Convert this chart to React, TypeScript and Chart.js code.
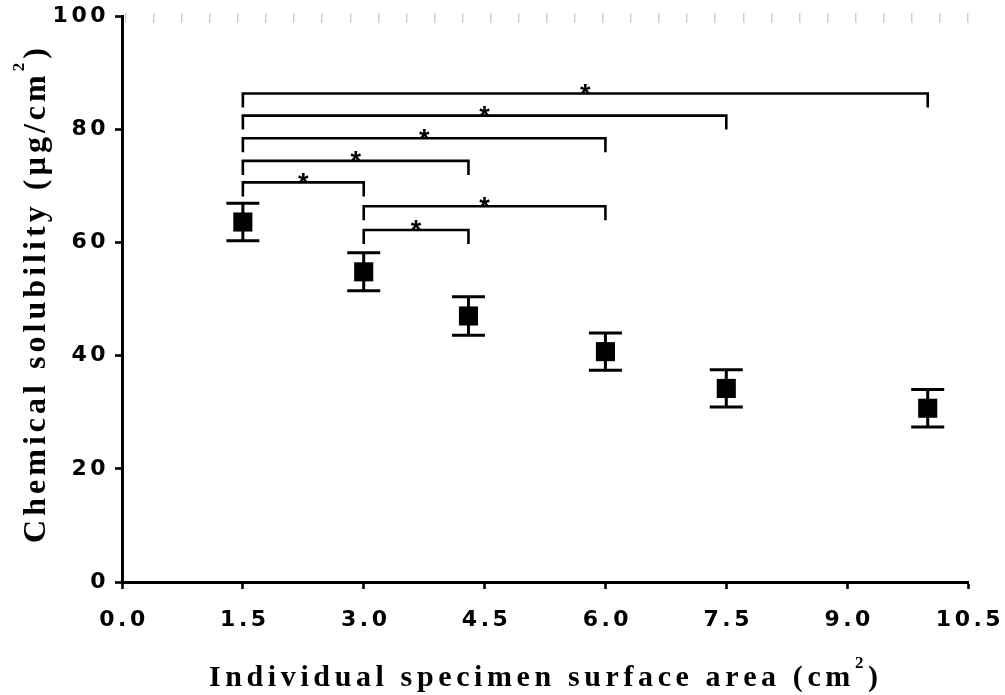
import React, { useEffect, useRef } from 'react';
import { Chart, registerables } from 'chart.js';

Chart.register(...registerables);

// Specimen surface area (cm²) and chemical solubility (mean ± SD, µg/cm²)
const surfaceArea = [1.5, 3.0, 4.3, 6.0, 7.5, 10.0];
const solubilityMean = [63.6, 54.8, 47.0, 40.7, 34.2, 30.7];
const solubilitySD = [3.3, 3.35, 3.4, 3.3, 3.3, 3.3];

// Significant pairwise comparisons (bracket from / to, drawn at a given level)
const comparisonFrom = [1.5, 1.5, 1.5, 1.5, 1.5, 3.0, 3.0];
const comparisonTo = [10.0, 7.5, 6.0, 4.3, 3.0, 6.0, 4.3];
const comparisonLevel = [86.3, 82.4, 78.4, 74.4, 70.6, 66.4, 62.2];
const comparisonMark = ['*', '*', '*', '*', '*', '*', '*'];

// Axis ticks
const xTicks = [0, 1.5, 3.0, 4.5, 6.0, 7.5, 9.0, 10.5];
const yTicks = [0, 20, 40, 60, 80, 100];

// Axis titles (main text, superscript, closing)
const xTitleParts = ['Individual specimen surface area (cm', '2', ')'];
const yTitleParts = ['Chemical solubility (µg/cm', '2', ')'];

const TICK_FONT = { family: "'DejaVu Sans', Arial, sans-serif", size: 22, weight: 'bold' as const };
const TICK_SPACING = '3.5px';
const TITLE_FAMILY = "'Liberation Serif', 'Times New Roman', serif";
const STAR_FAMILY = "'Liberation Sans', Arial, sans-serif";

type Part = { text: string; size: number; rise: number };

function drawSpacedTitle(
  ctx: CanvasRenderingContext2D,
  parts: Part[],
  targetWidth: number,
) {
  // measure natural width, then spread characters evenly across the target width
  let natural = 0;
  let count = 0;
  for (const p of parts) {
    ctx.font = `bold ${p.size}px ${TITLE_FAMILY}`;
    for (const ch of p.text) {
      natural += ctx.measureText(ch).width;
      count += 1;
    }
  }
  const gap = count > 1 ? (targetWidth - natural) / (count - 1) : 0;
  let x = -targetWidth / 2;
  ctx.textAlign = 'left';
  ctx.textBaseline = 'alphabetic';
  for (const p of parts) {
    ctx.font = `bold ${p.size}px ${TITLE_FAMILY}`;
    for (const ch of p.text) {
      ctx.fillText(ch, x, -p.rise);
      x += ctx.measureText(ch).width + gap;
    }
  }
}

const decorPlugin = {
  id: 'solubilityDecor',
  beforeLayout(chart: any) {
    (chart.ctx as any).letterSpacing = TICK_SPACING;
  },
  beforeDraw(chart: any) {
    (chart.ctx as any).letterSpacing = TICK_SPACING;
  },
  beforeDatasetsDraw(chart: any) {
    const ctx: CanvasRenderingContext2D = chart.ctx;
    const xs = chart.scales.x;
    const ys = chart.scales.y;
    const area = chart.chartArea;
    ctx.save();
    (ctx as any).letterSpacing = '0px';

    // light dashed frame along the top edge
    ctx.fillStyle = '#cccccc';
    for (let px = area.left + 3; px <= area.right + 1; px += 28.07) {
      ctx.fillRect(Math.round(px), area.top - 3, 1.4, 10);
    }

    // error bars
    ctx.strokeStyle = '#000';
    ctx.lineWidth = 3;
    ctx.lineCap = 'butt';
    for (let i = 0; i < surfaceArea.length; i++) {
      const px = xs.getPixelForValue(surfaceArea[i]);
      const top = ys.getPixelForValue(solubilityMean[i] + solubilitySD[i]);
      const bot = ys.getPixelForValue(solubilityMean[i] - solubilitySD[i]);
      ctx.beginPath();
      ctx.moveTo(px, top);
      ctx.lineTo(px, bot);
      ctx.moveTo(px - 16.5, top);
      ctx.lineTo(px + 16.5, top);
      ctx.moveTo(px - 16.5, bot);
      ctx.lineTo(px + 16.5, bot);
      ctx.stroke();
    }
    ctx.restore();
  },
  afterDatasetsDraw(chart: any) {
    const ctx: CanvasRenderingContext2D = chart.ctx;
    const xs = chart.scales.x;
    const ys = chart.scales.y;
    ctx.save();
    (ctx as any).letterSpacing = '0px';
    ctx.strokeStyle = '#000';
    ctx.fillStyle = '#000';
    ctx.lineWidth = 2.6;
    ctx.lineJoin = 'miter';
    ctx.font = `bold 27px ${STAR_FAMILY}`;
    ctx.textAlign = 'center';
    ctx.textBaseline = 'alphabetic';
    const drop = 14;
    for (let i = 0; i < comparisonFrom.length; i++) {
      const x1 = xs.getPixelForValue(comparisonFrom[i]);
      const x2 = xs.getPixelForValue(comparisonTo[i]);
      const yl = ys.getPixelForValue(comparisonLevel[i]);
      ctx.beginPath();
      ctx.moveTo(x1, yl + drop);
      ctx.lineTo(x1, yl);
      ctx.lineTo(x2, yl);
      ctx.lineTo(x2, yl + drop);
      ctx.stroke();
      const m = ctx.measureText(comparisonMark[i]);
      const centerY = yl - 4;
      const base = centerY - (m.actualBoundingBoxDescent - m.actualBoundingBoxAscent) / 2;
      ctx.fillText(comparisonMark[i], (x1 + x2) / 2, base);
    }
    ctx.restore();
  },
  afterDraw(chart: any) {
    const ctx: CanvasRenderingContext2D = chart.ctx;
    ctx.save();
    (ctx as any).letterSpacing = '0px';
    ctx.fillStyle = '#000';

    // x-axis title
    ctx.save();
    ctx.translate(543.5, 686);
    drawSpacedTitle(
      ctx,
      [
        { text: xTitleParts[0], size: 30, rise: 0 },
        { text: xTitleParts[1], size: 17, rise: 18 },
        { text: xTitleParts[2], size: 30, rise: 0 },
      ],
      669,
    );
    ctx.restore();

    // y-axis title (rotated)
    ctx.save();
    ctx.translate(45, 295.5);
    ctx.rotate(-Math.PI / 2);
    drawSpacedTitle(
      ctx,
      [
        { text: yTitleParts[0], size: 32, rise: 0 },
        { text: yTitleParts[1], size: 17, rise: 21 },
        { text: yTitleParts[2], size: 32, rise: 0 },
      ],
      495,
    );
    ctx.restore();

    ctx.restore();
  },
};

export default function App() {
  const canvasRef = useRef<HTMLCanvasElement | null>(null);

  useEffect(() => {
    const canvas = canvasRef.current;
    if (!canvas) return;

    const chart = new Chart(canvas, {
      type: 'scatter',
      data: {
        datasets: [
          {
            label: 'Chemical solubility',
            data: surfaceArea.map((x, i) => ({ x, y: solubilityMean[i] })),
            pointStyle: 'rect',
            pointRadius: 13.5,
            pointHoverRadius: 13.5,
            backgroundColor: '#000',
            borderColor: '#000',
            borderWidth: 0,
            showLine: false,
          },
        ],
      },
      options: {
        animation: false,
        responsive: true,
        maintainAspectRatio: false,
        events: [],
        layout: { padding: { top: 16, right: 37, bottom: 0, left: 0 } },
        plugins: {
          legend: { display: false },
          tooltip: { enabled: false },
        },
        scales: {
          x: {
            type: 'linear',
            min: 0,
            max: 10.5,
            afterBuildTicks: (s: any) => {
              s.ticks = xTicks.map((v) => ({ value: v }));
            },
            afterFit: (s: any) => {
              s.height = 113;
              s.paddingLeft = 0;
              s.paddingRight = 0;
            },
            ticks: {
              callback: (v: any) => Number(v).toFixed(1),
              font: TICK_FONT,
              color: '#000',
              padding: 18,
              labelOffset: 2,
              maxRotation: 0,
              autoSkip: false,
            },
            grid: {
              display: true,
              drawOnChartArea: false,
              drawTicks: true,
              tickLength: 7,
              tickWidth: 2.6,
              tickColor: '#000',
            },
            border: { display: true, color: '#000', width: 3 },
          },
          y: {
            type: 'linear',
            min: 0,
            max: 100,
            afterBuildTicks: (s: any) => {
              s.ticks = yTicks.map((v) => ({ value: v }));
            },
            afterFit: (s: any) => {
              s.width = 122;
              s.paddingTop = 0;
              s.paddingBottom = 0;
            },
            ticks: {
              callback: (v: any) => String(v),
              font: TICK_FONT,
              color: '#000',
              padding: 6,
              autoSkip: false,
            },
            grid: {
              display: true,
              drawOnChartArea: false,
              drawTicks: true,
              tickLength: 7,
              tickWidth: 2.6,
              tickColor: '#000',
            },
            border: { display: true, color: '#000', width: 3 },
          },
        },
      },
      plugins: [decorPlugin],
    });

    return () => {
      chart.destroy();
    };
  }, []);

  return (
    <div
      style={{
        position: 'fixed',
        left: 0,
        top: 0,
        width: 1005,
        height: 695,
        background: '#fff',
      }}
    >
      <canvas ref={canvasRef} style={{ display: 'block' }} />
    </div>
  );
}
